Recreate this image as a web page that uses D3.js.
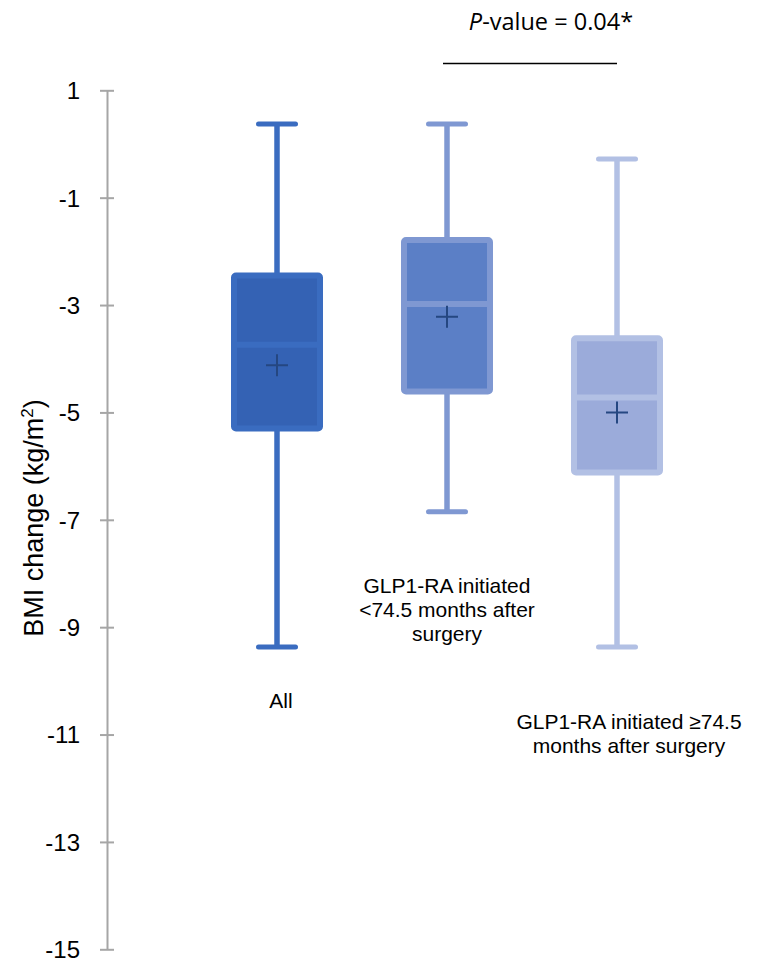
<!DOCTYPE html>
<html>
<head>
<meta charset="utf-8">
<script src="https://cdn.jsdelivr.net/npm/d3@7"></script>
<style>
  body { margin: 0; background: #fff; }
  svg { display: block; font-family: "Liberation Sans", Arial, sans-serif; }
</style>
</head>
<body>
<svg width="759" height="964"></svg>
<script>
const groups = ["All", "<74.5", ">=74.5"];
const whiskerLow = [-9.37, -6.85, -9.37];
const q1 = [-5.30, -4.61, -6.12];
const medians = [-3.74, -2.98, -4.72];
const q3 = [-2.45, -1.79, -3.62];
const whiskerHigh = [0.37, 0.37, -0.28];
const means = [-4.12, -3.22, -5.0];
const yTicks = [1, -1, -3, -5, -7, -9, -11, -13, -15];

const strokeColors = ["#3a6cc0", "#7f98d2", "#b2c0e4"];
const fillColors = ["#3462b4", "#5b7fc6", "#9babda"];

const svg = d3.select("svg");

const y = d3.scaleLinear().domain([-15, 1]).range([949.3, 90.3]);
const x = d3.scalePoint().domain(groups).range([277, 617]);

// Axis
const yAxis = d3.axisLeft(y).tickValues(yTicks).tickSize(0).tickFormat(d3.format("d"));
const gy = svg.append("g").attr("transform", "translate(107,0)").call(yAxis);
gy.attr("font-family", null);
gy.select(".domain").attr("stroke", "#a6a6a6").attr("stroke-width", 2);
gy.selectAll(".tick line").remove();
gy.selectAll(".tick").append("line")
  .attr("x1", -7).attr("x2", 7)
  .attr("stroke", "#a6a6a6").attr("stroke-width", 2);
gy.selectAll(".tick text")
  .attr("x", -27).attr("dy", "0.35em")
  .style("font-size", "24px").style("fill", "#000")
  .text(d => d < 0 ? "-" + Math.abs(d) : d);

svg.append("text")
  .attr("transform", "translate(43,518) rotate(-90)")
  .attr("text-anchor", "middle")
  .style("font-size", "27px")
  .html('BMI change (kg/m<tspan dy="-10" font-size="17">2</tspan><tspan dy="10">)</tspan>');

const boxW = 86;
const capW = 37;

groups.forEach((g, i) => {
  const cx = x(g);
  const gg = svg.append("g");
  // whisker
  gg.append("line")
    .attr("x1", cx).attr("x2", cx)
    .attr("y1", y(whiskerHigh[i])).attr("y2", y(whiskerLow[i]))
    .attr("stroke", strokeColors[i]).attr("stroke-width", 5.5);
  [whiskerHigh[i], whiskerLow[i]].forEach(v => {
    gg.append("line")
      .attr("x1", cx - capW / 2).attr("x2", cx + capW / 2)
      .attr("y1", y(v)).attr("y2", y(v))
      .attr("stroke", strokeColors[i]).attr("stroke-width", 5)
      .attr("stroke-linecap", "round");
  });
  // box
  gg.append("rect")
    .attr("x", cx - boxW / 2).attr("width", boxW)
    .attr("y", y(q3[i])).attr("height", y(q1[i]) - y(q3[i]))
    .attr("rx", 2)
    .attr("fill", fillColors[i])
    .attr("stroke", strokeColors[i]).attr("stroke-width", 6)
    .attr("stroke-linejoin", "round");
  // median
  gg.append("line")
    .attr("x1", cx - boxW / 2).attr("x2", cx + boxW / 2)
    .attr("y1", y(medians[i])).attr("y2", y(medians[i]))
    .attr("stroke", strokeColors[i]).attr("stroke-width", 6);
  // mean marker
  const my = y(means[i]);
  gg.append("path")
    .attr("d", `M${cx - 11},${my}H${cx + 11}M${cx},${my - 11}V${my + 11}`)
    .attr("stroke", "#254781").attr("stroke-width", 2).attr("fill", "none");
});

// category labels
const labels = [
  {x: 281, y: 708, lines: ["All"]},
  {x: 447, y: 593, lines: ["GLP1-RA initiated", "<74.5 months after", "surgery"]},
  {x: 629, y: 729, lines: ["GLP1-RA initiated \u226574.5", "months after surgery"]}
];
labels.forEach(l => {
  const t = svg.append("text")
    .attr("text-anchor", "middle")
    .style("font-size", "21px");
  l.lines.forEach((s, j) => {
    t.append("tspan").attr("x", l.x).attr("y", l.y + j * 24).text(s);
  });
});

// significance
svg.append("line")
  .attr("x1", 443).attr("x2", 617).attr("y1", 63.5).attr("y2", 63.5)
  .attr("stroke", "#000").attr("stroke-width", 1.3);
svg.append("text")
  .attr("x", 551).attr("y", 30)
  .attr("text-anchor", "middle")
  .style("font-family", "'Open Sans', 'Liberation Sans', sans-serif")
  .style("font-size", "23.5px")
  .html('<tspan font-style="italic">P</tspan>-value = 0.04*');
</script>
</body>
</html>
